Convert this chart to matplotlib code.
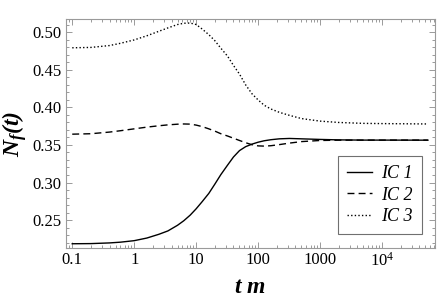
"""Relaxation of N_f(t) for three initial conditions"""

import matplotlib
matplotlib.use('Agg')
import matplotlib.pyplot as plt
from matplotlib.ticker import FixedLocator, FixedFormatter, LogLocator, MultipleLocator, NullFormatter

plt.rcParams['font.family'] = 'Liberation Serif'
plt.rcParams['mathtext.fontset'] = 'custom'
plt.rcParams['mathtext.rm'] = 'Liberation Serif'
plt.rcParams['mathtext.it'] = 'Liberation Serif:italic'
plt.rcParams['mathtext.bf'] = 'Liberation Serif:italic:bold'

# time points (t m) shared by the three curves
t_vals = [0.1, 0.2, 0.4, 0.6, 1, 1.6, 2.5, 3.5, 5, 6.3, 8, 10, 12.5, 16, 20, 25,
          32, 40, 50, 63, 80, 100, 125, 160, 220, 320, 500, 1000, 2000, 5000,
          1e4, 5.5e4]

ic1 = [0.2184, 0.2186, 0.2195, 0.2205, 0.2225, 0.2260, 0.2310, 0.2355, 0.2430,
       0.2490, 0.2565, 0.2650, 0.2745, 0.2855, 0.2978, 0.3105, 0.3230, 0.3340,
       0.3425, 0.3478, 0.3512, 0.3537, 0.3556, 0.3570, 0.3582, 0.3587, 0.3582,
       0.3574, 0.3568, 0.3565, 0.3565, 0.3564]
ic2 = [0.3644, 0.3650, 0.3672, 0.3690, 0.3715, 0.3738, 0.3756, 0.3768, 0.3777,
       0.3780, 0.3778, 0.3765, 0.3745, 0.3715, 0.3685, 0.3650, 0.3620, 0.3590,
       0.3560, 0.3530, 0.3503, 0.3488, 0.3485, 0.3490, 0.3505, 0.3525, 0.3545,
       0.3560, 0.3564, 0.3565, 0.3565, 0.3565]
ic3 = [0.4795, 0.4800, 0.4825, 0.4855, 0.4900, 0.4955, 0.5015, 0.5060, 0.5105,
       0.5122, 0.5125, 0.5105, 0.5045, 0.4970, 0.4890, 0.4790, 0.4685, 0.4560,
       0.4445, 0.4300, 0.4180, 0.4100, 0.4030, 0.3980, 0.3935, 0.3895, 0.3852,
       0.3818, 0.3800, 0.3788, 0.3785, 0.3780]

labels = ['IC 1', 'IC 2', 'IC 3']
styles = ['-', (0, (5, 3)), (0, (1, 1.6))]

x_ticks = [0.1, 1, 10, 100, 1000, 1e4]
x_ticklabels = ['0.1', '1', '10', '100', '1000', r'$10^4$']

fig = plt.figure(figsize=(4.37, 3.0), dpi=100)
ax = fig.add_axes([0.150, 0.174, 0.845, 0.763])

for ys, lab, ls in zip([ic1, ic2, ic3], labels, styles):
    ax.plot(t_vals, ys, color='black', linestyle=ls, linewidth=1.0, label=lab)

ax.set_xscale('log')
ax.set_xlim(0.078, 7.1e4)
ax.set_ylim(0.213, 0.518)

ax.xaxis.set_major_locator(FixedLocator(x_ticks))
ax.xaxis.set_major_formatter(FixedFormatter(x_ticklabels))
ax.xaxis.set_minor_locator(LogLocator(base=10, subs=range(2, 10), numticks=20))
ax.xaxis.set_minor_formatter(NullFormatter())
ax.yaxis.set_major_locator(MultipleLocator(0.05))
ax.yaxis.set_minor_locator(MultipleLocator(0.01))
ax.yaxis.set_major_formatter(plt.FuncFormatter(lambda v, p: f'{v:.2f}'))

frame_gray = '#9a9a9a'
for sp in ax.spines.values():
    sp.set_color(frame_gray)
    sp.set_linewidth(0.8)
ax.tick_params(which='both', direction='in', top=True, right=True, color=frame_gray,
               labelsize=12, labelcolor='black', width=0.7)
ax.tick_params(which='major', length=4, pad=3)
ax.tick_params(which='minor', length=2)

ax.set_xlabel(r'$\mathbf{t\ m}$', fontsize=17, labelpad=5)
ax.set_ylabel(r'$\mathbf{N_f(t)}$', fontsize=17, labelpad=2)

leg = ax.legend(loc='lower right', bbox_to_anchor=(0.965, 0.06), borderaxespad=0,
                prop={'style': 'italic', 'size': 13},
                fancybox=False, framealpha=1, edgecolor='#707070', handlelength=1.4,
                handletextpad=0.5, borderpad=0.5, labelspacing=0.25)
leg.get_frame().set_linewidth(0.8)

fig.savefig('out.png', dpi=100)
